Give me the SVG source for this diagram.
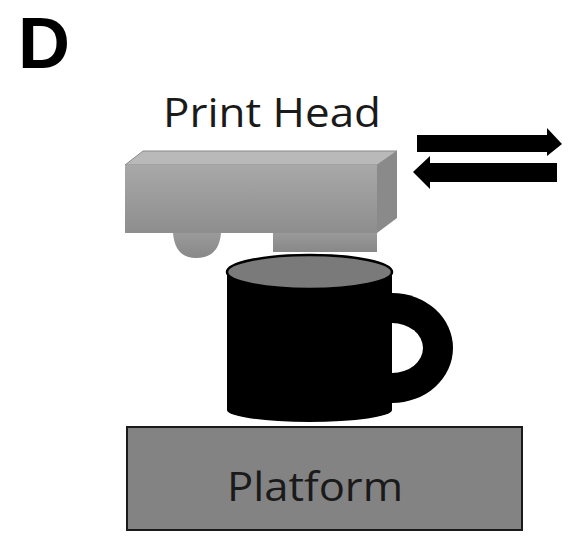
<svg xmlns="http://www.w3.org/2000/svg" width="577" height="541" viewBox="0 0 577 541">
  <style>
    .label { font-family: "Open Sans", "Noto Sans", sans-serif; fill: #1a1a1a; }
    .arrow { fill: #000; }
  </style>
  <defs>
    <linearGradient id="headFront" x1="0" y1="0" x2="0" y2="1">
      <stop offset="0" stop-color="#a8a8a8"/>
      <stop offset="1" stop-color="#8e8e8e"/>
    </linearGradient>
    <linearGradient id="nozzle" x1="0" y1="0" x2="0" y2="1">
      <stop offset="0" stop-color="#9a9a9a"/>
      <stop offset="1" stop-color="#888"/>
    </linearGradient>
  </defs>
  <rect width="577" height="541" fill="#fff"/>

  <text x="18" y="68" font-family="Liberation Sans, Arial, sans-serif" font-weight="bold" font-size="72" fill="#000">D</text>

  <!-- print head -->
  <g id="print-head">
    <text class="label" x="163" y="127" font-size="40" textLength="218" lengthAdjust="spacingAndGlyphs">Print Head</text>
    <path d="M173 233 Q175 258 196 258 Q219 258 221 233 Z" fill="url(#nozzle)"/>
    <rect x="273" y="232" width="104" height="20" fill="url(#nozzle)"/>
    <polygon points="125,165 143,151 397,151 377,165" fill="#b9b9b9" stroke="#8a8a8a" stroke-width="1"/>
    <polygon points="377,165 397,151 397,218 377,233" fill="#8a8a8a"/>
    <rect x="125" y="165" width="252" height="68" fill="url(#headFront)"/>
  </g>

  <!-- motion arrows -->
  <g id="motion-arrows">
    <polygon class="arrow" points="417,135 547,135 547,128 562,144 547,156 547,152 417,152"/>
    <polygon class="arrow" points="557,163 430,163 430,156 413,172 430,189 430,182 557,182"/>
  </g>

  <!-- mug -->
  <g id="mug">
    <ellipse cx="392" cy="348" rx="61" ry="55" fill="#000"/>
    <ellipse cx="392" cy="348" rx="31" ry="25" fill="#fff"/>
    <path d="M227 272 L227 410 A82.5 12 0 0 0 392 410 L392 272 Z" fill="#000"/>
    <ellipse cx="309.5" cy="272" rx="82.5" ry="17" fill="#7a7a7a" stroke="#000" stroke-width="2.5"/>
  </g>

  <!-- platform -->
  <g id="platform">
    <rect x="127" y="427" width="395" height="103" fill="#838383" stroke="#1a1a1a" stroke-width="2"/>
    <text class="label" x="227" y="501" font-size="40" textLength="176" lengthAdjust="spacingAndGlyphs">Platform</text>
  </g>
</svg>
